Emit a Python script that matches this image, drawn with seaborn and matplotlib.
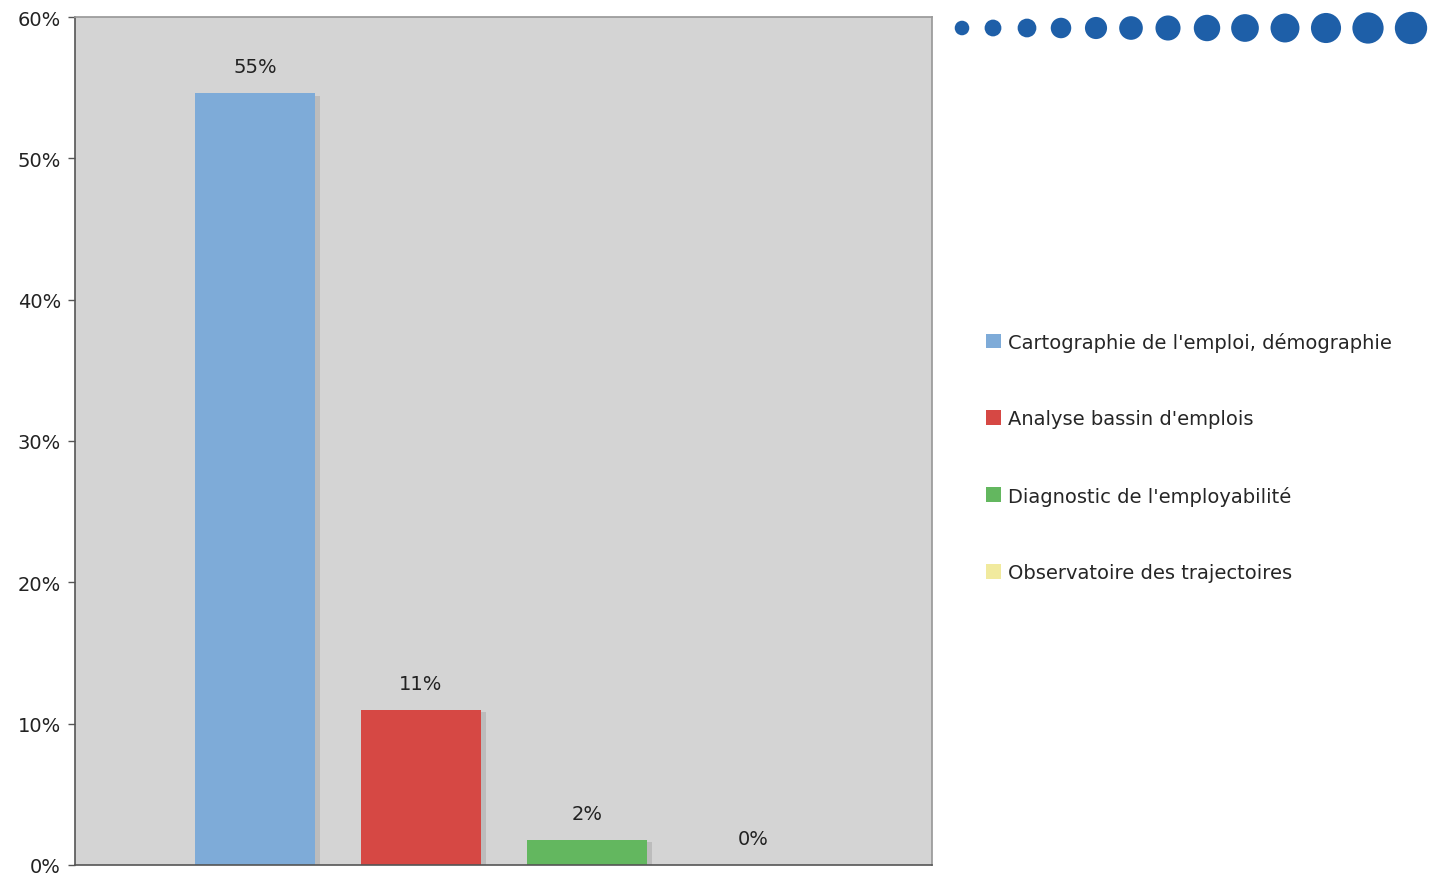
import matplotlib
matplotlib.use("Agg")
import matplotlib.pyplot as plt
import seaborn as sns
import pandas as pd
from matplotlib.patches import Patch

categories = [
    "Cartographie de l'emploi, démographie",
    "Analyse bassin d'emplois",
    "Diagnostic de l'employabilité",
    "Observatoire des trajectoires",
]
values = [54.6, 11.0, 1.8, 0.0]
colors = ["#7eabd8", "#d64844", "#63b75f", "#f1ea9e"]
y_ticks = [0, 10, 20, 30, 40, 50, 60]
y_tick_labels = ["0%", "10%", "20%", "30%", "40%", "50%", "60%"]

sns.set_theme(style="white")
plt.rcParams["font.family"] = ["DejaVu Sans"]

df = pd.DataFrame({"cat": categories, "val": values})

fig = plt.figure(figsize=(14.31, 8.79), dpi=100)
ax = fig.add_axes([75 / 1431, 1 - 866 / 879, (932 - 75) / 1431, (866 - 18) / 879])
ax.set_facecolor("#d4d4d4")

sns.barplot(data=df, x="cat", y="val", hue="cat", palette=colors,
            width=0.72, dodge=False, legend=False, ax=ax, saturation=1,
            linewidth=0)

# faint shadow on the right side of each bar
for p in list(ax.patches):
    x0 = p.get_x() + p.get_width()
    h = p.get_height()
    if h > 0:
        ax.bar(x0, h - 0.2, width=0.03, bottom=0, color="#bcbcbc",
               align="edge", zorder=p.get_zorder() - 0.1, linewidth=0)

for i, v in enumerate(values):
    ax.text(i, v + 1.2, f"{round(v):d}%", ha="center", va="bottom",
            fontsize=14, color="#222222")

ax.set_xlim(-1.084, 4.08)
ax.set_ylim(0, 60)
ax.set_yticks(y_ticks)
ax.set_yticklabels(y_tick_labels, fontsize=14, color="#222222")
ax.set_xticks([])
ax.set_xlabel("")
ax.set_ylabel("")
ax.tick_params(axis="y", length=5, width=1, color="#555555", pad=5, left=True)
for side in ["left", "bottom"]:
    ax.spines[side].set_color("#555555")
    ax.spines[side].set_linewidth(1.2)
ax.spines["right"].set_color("#9a9a9a")
ax.spines["top"].set_color("#9a9a9a")

handles = [Patch(facecolor=c, edgecolor="none") for c in colors]
fig.legend(handles, categories, loc="upper left",
           bbox_to_anchor=(978 / 1431, 1 - 325 / 879), frameon=False,
           fontsize=14, labelspacing=2.95, handlelength=0.8, handleheight=0.8,
           handletextpad=0.35, borderaxespad=0)

# row of dots growing in size along the top right
deco = fig.add_axes([0, 0, 1, 1], facecolor="none")
deco.set_xlim(0, 1431)
deco.set_ylim(879, 0)
deco.axis("off")
xs = [962, 993, 1027, 1061, 1096, 1131, 1168, 1207, 1245, 1285, 1326, 1368, 1411]
sizes = [110 + 36 * k for k in range(len(xs))]
deco.scatter(xs, [29] * len(xs), s=sizes, color="#1e5fa8", linewidths=0, marker="o")
ax.set_zorder(2)

fig.savefig("out.png", dpi=100)
